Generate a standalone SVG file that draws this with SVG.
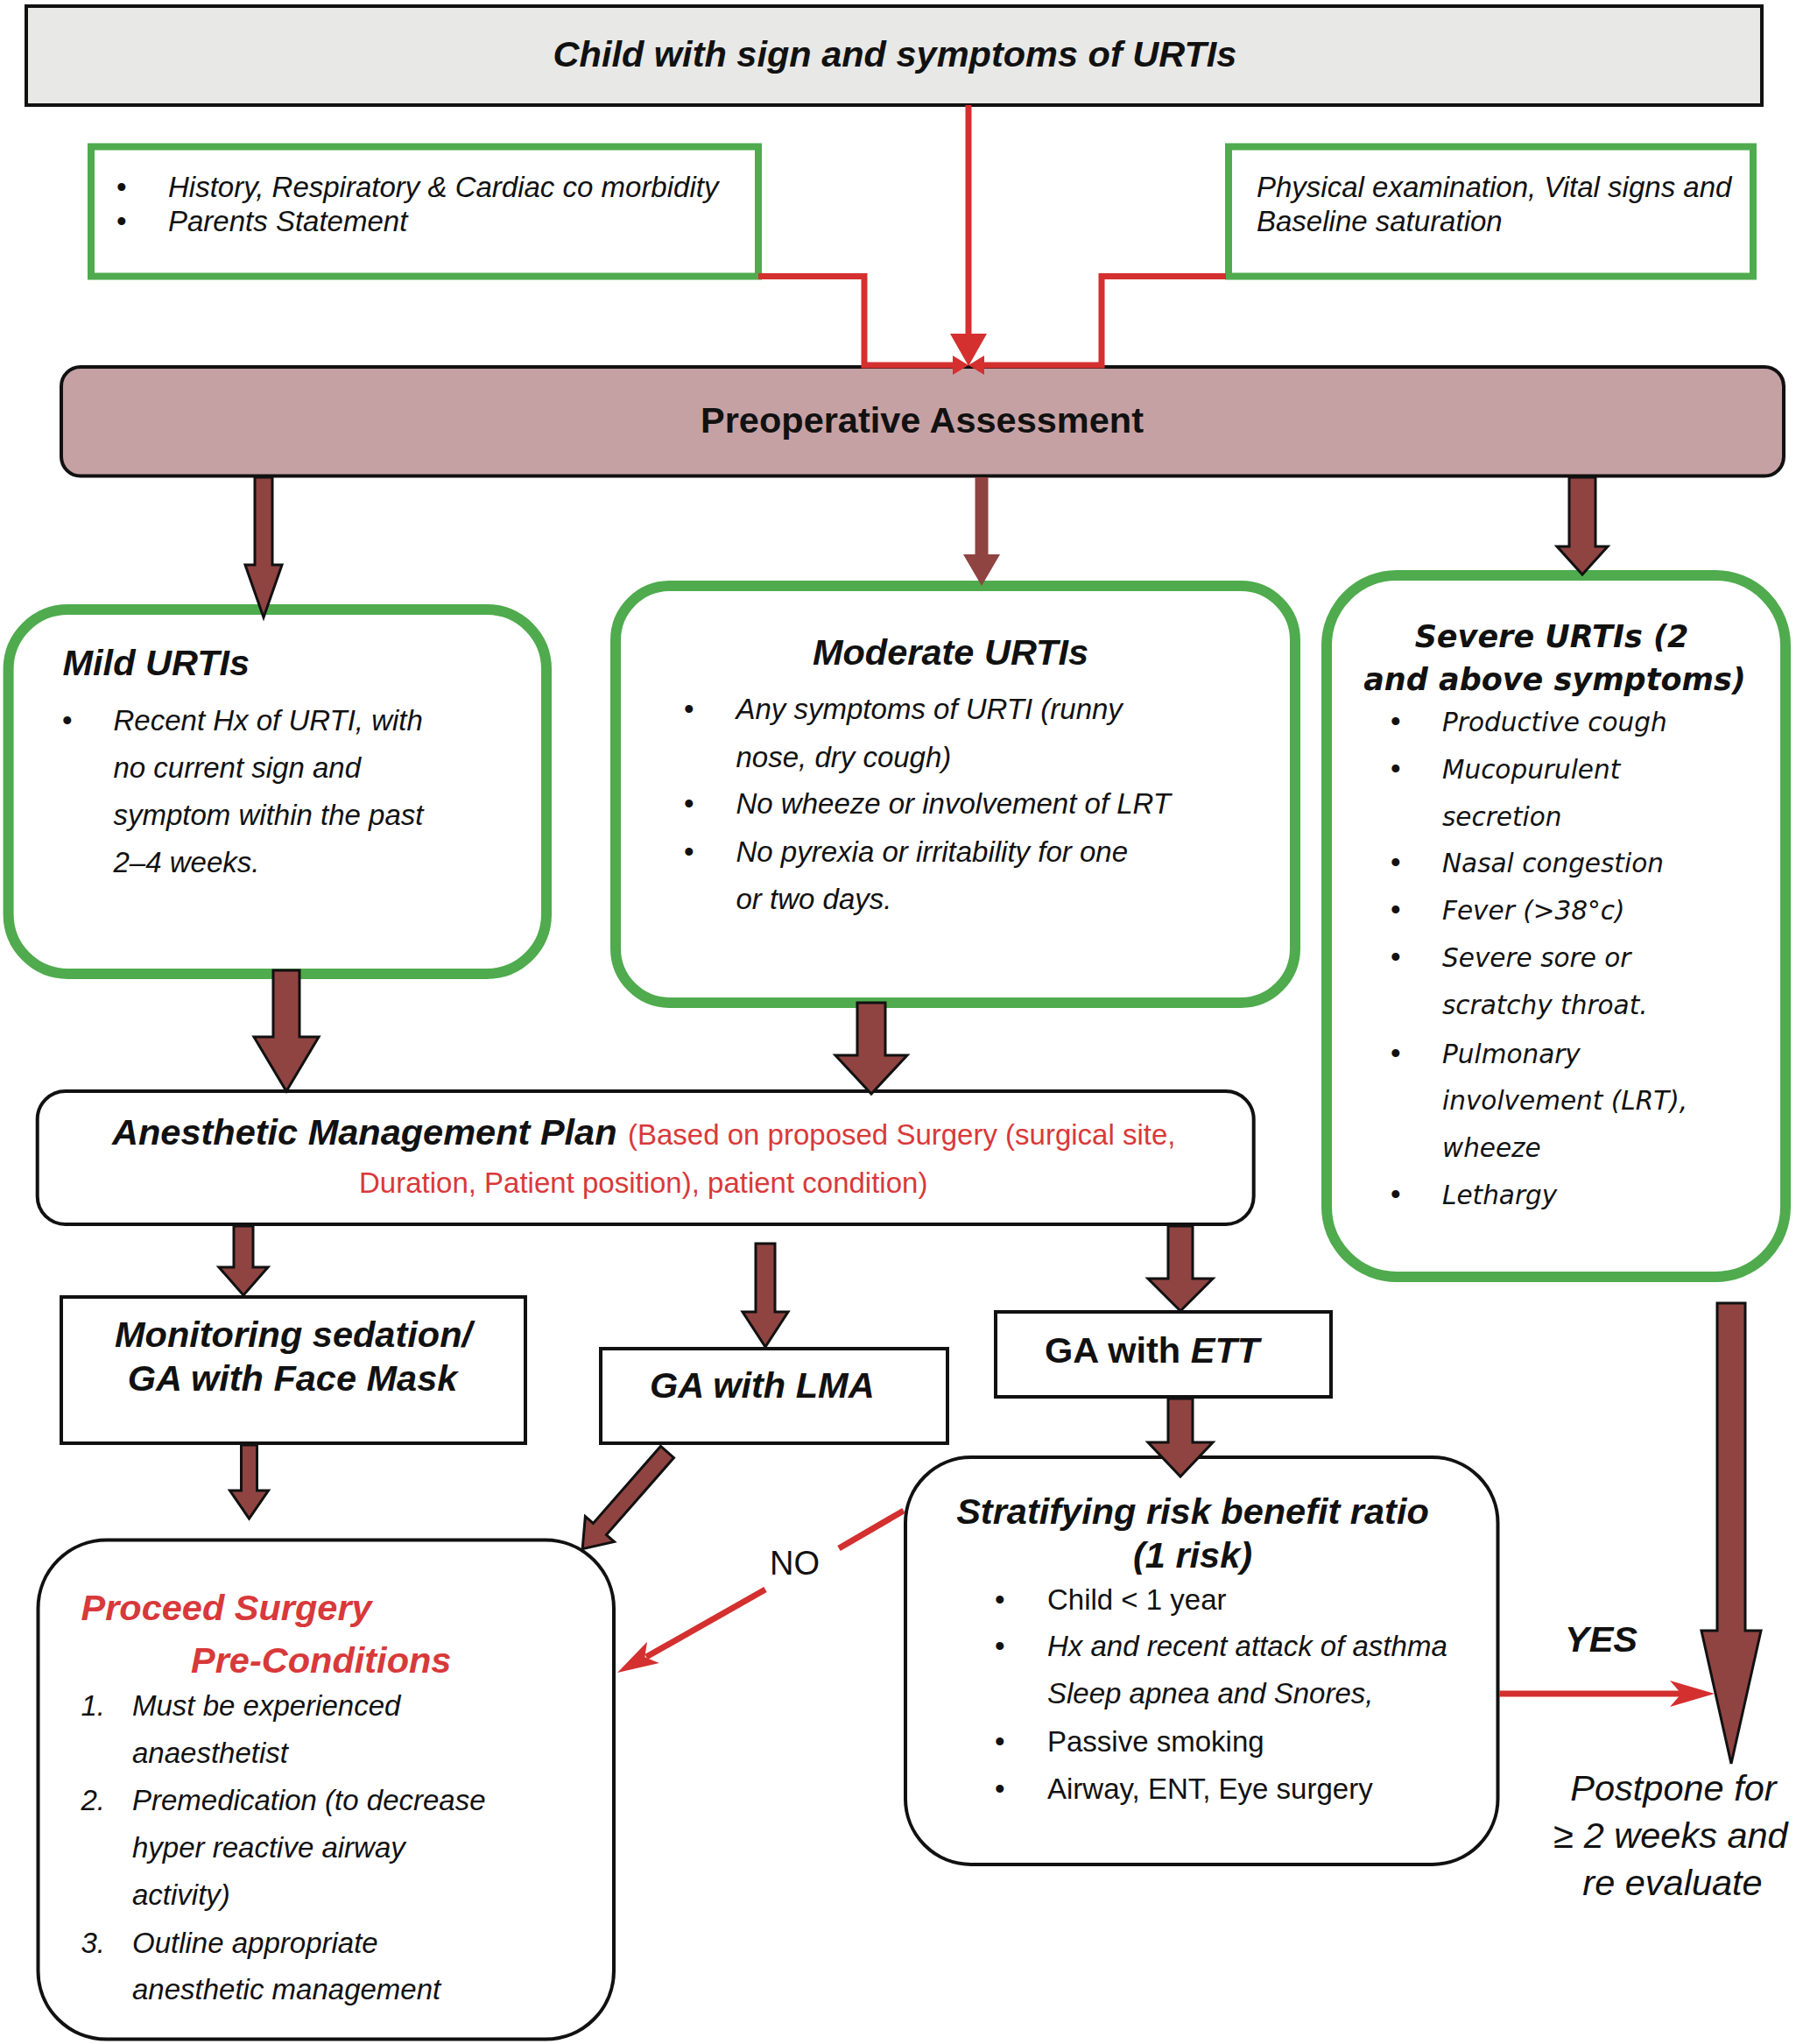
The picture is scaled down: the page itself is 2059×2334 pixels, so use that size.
<svg xmlns="http://www.w3.org/2000/svg" width="2059" height="2334" viewBox="0 0 2059 2334">
<style>
text{font-family:"Liberation Sans",Arial,sans-serif;fill:#111}
.t{font-size:41.5px;font-weight:bold;font-style:italic}
.b{font-size:41.5px;font-weight:bold}
.i{font-size:33px;font-style:italic}
.r{font-size:33px}
.red{fill:#d8393a}
.g{fill:#fff;stroke:#4fab4d;stroke-width:12}
.g8{fill:#fff;stroke:#4fab4d;stroke-width:8}
.k{fill:#fff;stroke:#111;stroke-width:4}
.arr{fill:#8f4442;stroke:#111;stroke-width:3;stroke-linejoin:miter}
.arrn{fill:#8f4442}
.rl{fill:none;stroke:#d3302f;stroke-width:7}
.rh{fill:#d3302f}
.sv{font-family:"DejaVu Sans",Verdana,sans-serif;font-style:italic;font-size:29.5px}
.svt{font-family:"DejaVu Sans",Verdana,sans-serif;font-style:italic;font-weight:bold;font-size:35px}
.mid{text-anchor:middle}
</style>
<rect width="2059" height="2334" fill="#fff"/>

<g id="top">
<rect x="30" y="7" width="1982" height="113" fill="#e8e8e6" stroke="#111" stroke-width="4"/>
<text class="t mid" x="1022" y="76">Child with sign and symptoms of URTIs</text>
</g>

<g id="history">
<rect class="g8" x="104" y="167.5" width="762" height="148"/>
<text class="r" x="133" y="225">•</text><text class="i" x="192" y="225">History, Respiratory &amp; Cardiac co morbidity</text>
<text class="r" x="133" y="264">•</text><text class="i" x="192" y="264">Parents Statement</text>
</g>

<g id="physical">
<rect class="g8" x="1403" y="167.5" width="599" height="148"/>
<text class="i" x="1435" y="225">Physical examination, Vital signs and</text>
<text class="i" x="1435" y="264">Baseline saturation</text>
</g>

<g id="preop">
<rect x="70" y="419" width="1967" height="124.5" rx="22" fill="#c6a1a4" stroke="#111" stroke-width="4"/>
<text class="b mid" x="1053" y="494">Preoperative Assessment</text>
</g>

<g id="mild">
<rect class="g" x="9.6" y="696" width="614.4" height="416" rx="68"/>
<text class="t" x="71.5" y="771">Mild URTIs</text>
<text class="r" x="71" y="833.6">•</text>
<text class="i" x="129.5" y="833.6">Recent Hx of URTI, with</text>
<text class="i" x="129.5" y="888">no current sign and</text>
<text class="i" x="129.5" y="942">symptom within the past</text>
<text class="i" x="129.5" y="995.5">2–4 weeks.</text>
</g>

<g id="moderate">
<rect class="g" x="703" y="669" width="776" height="476" rx="62"/>
<text class="t mid" x="1085.5" y="759">Moderate URTIs</text>
<text class="r" x="781" y="821">•</text>
<text class="i" x="840.5" y="821">Any symptoms of URTI (runny</text>
<text class="i" x="840.5" y="876">nose, dry cough)</text>
<text class="r" x="781" y="929">•</text>
<text class="i" x="840.5" y="929">No wheeze or involvement of LRT</text>
<text class="r" x="781" y="984">•</text>
<text class="i" x="840.5" y="984">No pyrexia or irritability for one</text>
<text class="i" x="840.5" y="1038">or two days.</text>
</g>

<g id="severe">
<rect class="g" x="1515" y="657" width="524" height="801" rx="80"/>
<text class="svt mid" x="1772" y="738.6">Severe URTIs (2</text>
<text class="svt mid" x="1775.5" y="788">and above symptoms)</text>
<text class="r" x="1588" y="834.6">•</text><text class="sv" x="1647" y="834.6">Productive cough</text>
<text class="r" x="1588" y="888.5">•</text><text class="sv" x="1647" y="888.5">Mucopurulent</text>
<text class="sv" x="1647" y="942.5">secretion</text>
<text class="r" x="1588" y="996.4">•</text><text class="sv" x="1647" y="996.4">Nasal congestion</text>
<text class="r" x="1588" y="1050.4">•</text><text class="sv" x="1647" y="1050.4">Fever (&gt;38°c)</text>
<text class="r" x="1588" y="1104">•</text><text class="sv" x="1647" y="1104">Severe sore or</text>
<text class="sv" x="1647" y="1158">scratchy throat.</text>
<text class="r" x="1588" y="1213.5">•</text><text class="sv" x="1647" y="1213.5">Pulmonary</text>
<text class="sv" x="1647" y="1267">involvement (LRT),</text>
<text class="sv" x="1647" y="1321">wheeze</text>
<text class="r" x="1588" y="1375">•</text><text class="sv" x="1647" y="1375">Lethargy</text>
</g>

<g id="plan">
<rect class="k" x="42.7" y="1246" width="1389" height="152" rx="32"/>
<text x="128" y="1307"><tspan class="t">Anesthetic Management Plan</tspan><tspan class="r red" x="717">(Based on proposed Surgery (surgical site,</tspan></text>
<text class="r red" x="410" y="1362">Duration, Patient position), patient condition)</text>
</g>

<g id="facemask">
<rect class="k" x="70" y="1481" width="530" height="167"/>
<text class="t mid" x="335" y="1538">Monitoring sedation/</text>
<text class="t mid" x="334" y="1588">GA with Face Mask</text>
</g>

<g id="lma">
<rect class="k" x="686" y="1540" width="396" height="108"/>
<text class="t" x="742" y="1596">GA with LMA</text>
</g>

<g id="ett">
<rect class="k" x="1137" y="1498" width="383" height="97"/>
<text class="b" x="1193" y="1556">GA with <tspan font-style="italic">ETT</tspan></text>
</g>

<g id="stratify">
<rect class="k" x="1034" y="1664" width="676.5" height="465" rx="75"/>
<text class="t mid" x="1362" y="1740">Stratifying risk benefit ratio</text>
<text class="t mid" x="1362" y="1789.5">(1 risk)</text>
<text class="r" x="1136" y="1837.7">•</text><text class="r" x="1196" y="1837.7">Child &lt; 1 year</text>
<text class="r" x="1136" y="1891">•</text><text class="i" x="1196" y="1891">Hx and recent attack of asthma</text>
<text class="i" x="1196" y="1945">Sleep apnea and Snores,</text>
<text class="r" x="1136" y="2000">•</text><text class="r" x="1196" y="2000">Passive smoking</text>
<text class="r" x="1136" y="2054">•</text><text class="r" x="1196" y="2054">Airway, ENT, Eye surgery</text>
</g>

<g id="proceed">
<rect class="k" x="43.5" y="1758.6" width="657.5" height="570" rx="78"/>
<text class="t red" x="92.5" y="1849.6">Proceed Surgery</text>
<text class="t red" x="218" y="1910">Pre-Conditions</text>
<text class="i" x="92.5" y="1958.7">1.</text><text class="i" x="151" y="1958.7">Must be experienced</text>
<text class="i" x="151" y="2013">anaesthetist</text>
<text class="i" x="92.5" y="2067">2.</text><text class="i" x="151" y="2067">Premedication (to decrease</text>
<text class="i" x="151" y="2121">hyper reactive airway</text>
<text class="i" x="151" y="2175">activity)</text>
<text class="i" x="92.5" y="2229.6">3.</text><text class="i" x="151" y="2229.6">Outline appropriate</text>
<text class="i" x="151" y="2283.4">anesthetic management</text>
</g>

<g id="postpone">
<text class="mid" font-size="41.5" font-style="italic" x="1911" y="2056">Postpone for</text>
<text class="mid" font-size="41.5" font-style="italic" x="1908" y="2110">≥ 2 weeks and</text>
<text class="mid" font-size="41.5" font-style="italic" x="1910" y="2164">re evaluate</text>
</g>

<g id="connectors">
<line class="rl" x1="1106" y1="120" x2="1106" y2="385"/>
<path class="rh" d="M1085,381 L1127,381 L1106,418 Z"/>
<polyline class="rl" stroke-width="8" points="866,315.5 987,315.5 987,417 1090,417"/>
<path class="rh" d="M1088,406 L1106,417 L1088,428 Z"/>
<polyline class="rl" stroke-width="8" points="1400,315.5 1258,315.5 1258,417 1122,417"/>
<path class="rh" d="M1124,406 L1106,417 L1124,428 Z"/>

<path class="arr" d="M291,545 L311,545 L311,645 L322,645 L301,705 L280,645 L291,645 Z"/>
<path class="arrn" d="M1113.5,545 L1128.5,545 L1128.5,633 L1142,633 L1121,669 L1100,633 L1113.5,633 Z"/>
<path class="arr" d="M1792,545 L1822,545 L1822,624 L1836,624 L1807,656 L1778,624 L1792,624 Z"/>
<path class="arr" d="M312,1108 L342,1108 L342,1184 L364,1184 L327,1246 L290,1184 L312,1184 Z"/>
<path class="arr" d="M979,1145 L1011,1145 L1011,1205 L1036,1205 L995,1249 L954,1205 L979,1205 Z"/>
<path class="arr" d="M267,1400 L289,1400 L289,1447 L306,1447 L278,1479 L250,1447 L267,1447 Z"/>
<path class="arr" d="M863,1420 L885,1420 L885,1498 L900,1498 L874,1538 L848,1498 L863,1498 Z"/>
<path class="arr" d="M1334,1400 L1362,1400 L1362,1460 L1385,1460 L1348,1497 L1311,1460 L1334,1460 Z"/>
<path class="arr" d="M1334,1597 L1362,1597 L1362,1647 L1385,1647 L1348,1686 L1311,1647 L1334,1647 Z"/>
<path class="arr" d="M275.5,1650 L293.5,1650 L293.5,1702 L306.5,1702 L284.5,1734 L262.5,1702 L275.5,1702 Z"/>
<path class="arr" transform="translate(762,1658) rotate(41.2)" d="M-10,0 L10,0 L10,117 L22,117 L0,147 L-22,117 L-10,117 Z"/>
<path class="arr" d="M1961,1488 L1993,1488 L1993,1862 L2011,1862 L1977,2014 L1943,1862 L1961,1862 Z"/>

<line class="rl" x1="1032" y1="1725" x2="958" y2="1768"/>
<line class="rl" x1="874" y1="1815" x2="738" y2="1892"/>
<path class="rh" d="M705,1910 L739,1874.7 L736.4,1892.3 L752.8,1899.1 Z"/>
<text x="879" y="1798" font-size="38">NO</text>

<line class="rl" x1="1712" y1="1934" x2="1922" y2="1934"/>
<path class="rh" d="M1958,1934 L1907,1919 L1920,1934 L1907,1949 Z"/>
<text class="t" font-size="39" x="1787" y="1886">YES</text>
</g>
</svg>
